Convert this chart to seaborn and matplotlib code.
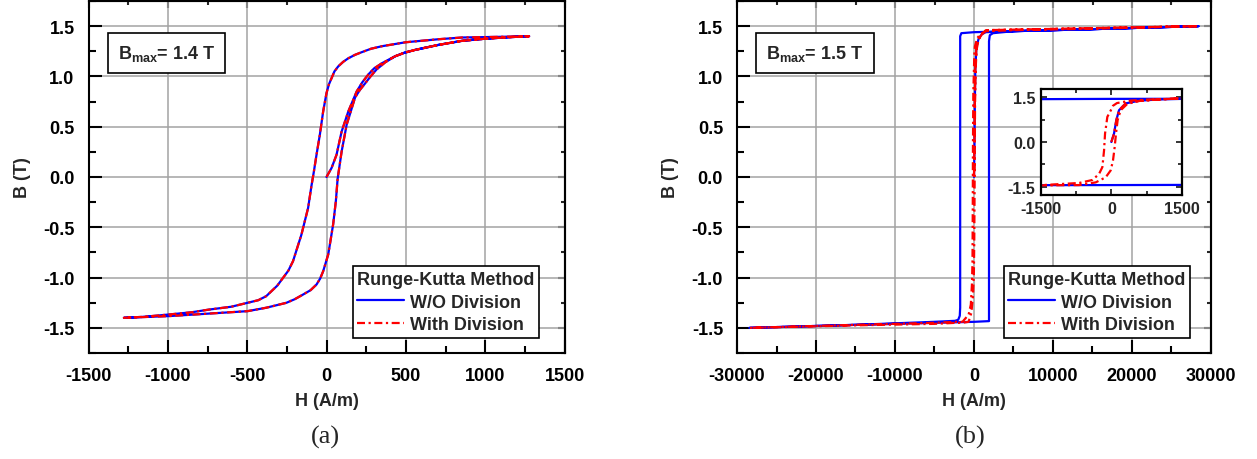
import matplotlib
matplotlib.use("Agg")
import matplotlib.pyplot as plt
import seaborn as sns
from matplotlib.ticker import MultipleLocator, FormatStrFormatter, FixedLocator

# ---------------- data ----------------
# (a) Bmax = 1.4 T : initial curve -> descending branch -> ascending branch
h_14 = [0, 32, 63, 95, 137, 190, 225, 264, 300, 348, 432, 490, 559, 707, 854, 1000, 1150, 1277,
        1100, 854, 707, 500, 348, 280, 222, 180, 137, 105, 74, 50, 32, 15, 0, -21, -42, -63, -80, -95,
        -116, -158, -211, -240, -274, -310, -380, -430, -498, -600, -739, -850, -992, -1150, -1277,
        -992, -498, -380, -253, -200, -148, -100, -63, -40, -21, 11, 42, 59, 70, 95, 127, 180, 210,
        243, 280, 316, 370, 432, 490, 559, 707, 854, 1000, 1150, 1277]
b_14 = [0.0, 0.09, 0.22, 0.45, 0.65, 0.85, 0.94, 1.02, 1.08, 1.13, 1.20, 1.235, 1.264, 1.314, 1.354, 1.375, 1.39, 1.40,
        1.394, 1.387, 1.37, 1.34, 1.30, 1.275, 1.241, 1.215, 1.18, 1.145, 1.10, 1.05, 0.983, 0.92, 0.834,
        0.652, 0.42, 0.22, 0.05, -0.09,
        -0.308, -0.573, -0.837, -0.93, -1.003, -1.08, -1.185, -1.225, -1.251, -1.29, -1.318, -1.345, -1.367, -1.39, -1.40,
        -1.383, -1.334, -1.30, -1.251, -1.215, -1.169, -1.125, -1.069, -1.01, -0.937, -0.77, -0.47, -0.24, -0.02,
        0.25, 0.52, 0.79, 0.865,
        0.93, 1.005, 1.07, 1.14, 1.20, 1.235, 1.264, 1.314, 1.354, 1.375, 1.39, 1.40]

# (b) Bmax = 1.5 T, without division (blue)
h_15_wo = [0, 57, 106, 163, 305, 600, 1000, 1500, 5000, 15000, 28400,
           15000, 5000, 0, -1600, -1750, -1750, -1800, -2000, -2400, -5000, -15000, -28400,
           -15000, -5000, 0, 1900, 1900, 2000, 2400, 5000, 15000, 28400]
b_15_wo = [0.0, 0.28, 0.73, 1.06, 1.29, 1.38, 1.42, 1.44, 1.45, 1.47, 1.50,
           1.47, 1.45, 1.44, 1.43, 1.40, -1.30, -1.38, -1.42, -1.43, -1.44, -1.47, -1.50,
           -1.47, -1.45, -1.44, -1.433, 1.35, 1.41, 1.43, 1.45, 1.47, 1.50]

# (b) Bmax = 1.5 T, with division (red)
h_15_wd = [0, 57, 106, 163, 305, 450, 587, 1011, 1500, 5000, 15000, 28400,
           15000, 5000, 1500, 800, 400, 120, 35, 0, -85, -134, -155, -191, -262, -403, -686,
           -1463, -2300, -5000, -15000, -28400,
           -15000, -5000, -2300, -1500, -686, -332, -120, -14, 35, 71, 99, 134, 198, 339,
           587, 1011, 1500, 5000, 15000, 28400]
b_15_wd = [0.0, 0.28, 0.73, 1.06, 1.29, 1.35, 1.37, 1.42, 1.46, 1.465, 1.48, 1.50,
           1.475, 1.46, 1.45, 1.42, 1.38, 1.30, 1.21, 1.09, 0.84, 0.28, -0.28, -0.84, -1.07, -1.27, -1.37,
           -1.44, -1.44, -1.45, -1.47, -1.50,
           -1.475, -1.46, -1.45, -1.45, -1.44, -1.35, -1.18, -0.95, -0.62, -0.17, 0.28, 0.73, 1.06, 1.27,
           1.37, 1.42, 1.46, 1.465, 1.48, 1.50]

panel_titles = ["(a)", "(b)"]
bmax_labels = [r"$\mathrm{B_{max}}$= 1.4 T", r"$\mathrm{B_{max}}$= 1.5 T"]
series_names = ["W/O Division", "With Division"]
legend_title = "Runge-Kutta Method"

# ---------------- style ----------------
sns.set_style("ticks")
plt.rcParams["font.family"] = ["Liberation Sans", "DejaVu Sans"]
plt.rcParams["font.weight"] = "bold"
plt.rcParams["axes.labelweight"] = "bold"
plt.rcParams["axes.unicode_minus"] = False
plt.rcParams["mathtext.fontset"] = "custom"
plt.rcParams["mathtext.rm"] = "Liberation Sans:bold"
plt.rcParams["mathtext.bf"] = "Liberation Sans:bold"
plt.rcParams["mathtext.it"] = "Liberation Sans:bold"
plt.rcParams["axes.axisbelow"] = True

BLUE = "#0000ff"
RED = "#ff0000"
DASHDOT = (0, (3.6, 1.6, 1.0, 1.6))
W, H = 1257, 460

fig = plt.figure(figsize=(W / 100, H / 100), dpi=100)
axL = fig.add_axes([88.5 / W, 1 - 354 / H, 476 / W, 352 / H])
axR = fig.add_axes([737 / W, 1 - 354 / H, 474 / W, 352 / H])


def draw(ax, hw, bw, hd, bd, lw=1.6, legend=True):
    sns.lineplot(x=hw, y=bw, sort=False, estimator=None, color=BLUE, lw=lw, ax=ax,
                 label=series_names[0] if legend else None, legend=False)
    sns.lineplot(x=hd, y=bd, sort=False, estimator=None, color=RED, lw=lw, ax=ax,
                 linestyle=DASHDOT, label=series_names[1] if legend else None, legend=False)


def style_main(ax, xmaj, xmin):
    ax.set_ylim(-1.75, 1.75)
    ax.xaxis.set_major_locator(MultipleLocator(xmaj))
    ax.xaxis.set_minor_locator(MultipleLocator(xmin))
    ax.yaxis.set_major_locator(MultipleLocator(0.5))
    ax.yaxis.set_minor_locator(MultipleLocator(0.25))
    ax.yaxis.set_major_formatter(FormatStrFormatter("%.1f"))
    ax.grid(True, which="major", color="#a3a3a3", lw=1.1)
    ax.tick_params(which="both", direction="in", labelsize=13, width=1.5, pad=10,
                   colors="black")
    ax.tick_params(which="major", length=9.5)
    ax.tick_params(which="minor", length=5)
    for s in ax.spines.values():
        s.set_visible(True)
        s.set_linewidth(1.5)
        s.set_color("black")
    # shorter ticks on top / right
    sx = ax.secondary_xaxis("top")
    sx.xaxis.set_major_locator(MultipleLocator(xmaj))
    sx.xaxis.set_minor_locator(MultipleLocator(xmin))
    sx.tick_params(which="both", direction="in", labeltop=False, width=1.5)
    sx.tick_params(which="major", length=5)
    sx.tick_params(which="minor", length=3)
    sy = ax.secondary_yaxis("right")
    sy.yaxis.set_major_locator(MultipleLocator(0.5))
    sy.yaxis.set_minor_locator(MultipleLocator(0.25))
    sy.tick_params(which="both", direction="in", labelright=False, width=1.5)
    sy.tick_params(which="major", length=5)
    sy.tick_params(which="minor", length=3)
    for s in list(sx.spines.values()) + list(sy.spines.values()):
        s.set_linewidth(1.5)
    ax.set_xlabel("H (A/m)", fontsize=13, labelpad=6)
    ax.set_ylabel("B (T)", fontsize=13, labelpad=9)


draw(axL, h_14, b_14, h_14, b_14)
axL.set_xlim(-1500, 1500)
style_main(axL, 500, 250)

draw(axR, h_15_wo, b_15_wo, h_15_wd, b_15_wd)
axR.set_xlim(-30000, 30000)
style_main(axR, 10000, 5000)

for ax, lab, rx in ((axL, bmax_labels[0], 0.9464), (axR, bmax_labels[1], 0.9557)):
    ax.text(0.062, 0.852, lab, transform=ax.transAxes, fontsize=13, ha="left", va="center",
            bbox=dict(boxstyle="square,pad=0.55", fc="white", ec="black", lw=1.2), zorder=6)
    leg = ax.legend(loc="lower right", bbox_to_anchor=(rx, 0.0427), title=legend_title,
                    prop={"weight": "bold", "size": 13},
                    title_fontproperties={"weight": "bold", "size": 13},
                    frameon=True, fancybox=False, edgecolor="black", framealpha=1,
                    borderpad=0.25, labelspacing=0.32, handlelength=2.6,
                    handletextpad=0.35, borderaxespad=0, alignment="left")
    leg.get_frame().set_linewidth(1.2)

# inset in panel (b)
ins = axR.inset_axes([0.641, 0.449, 0.2975, 0.301])
draw(ins, h_15_wo, b_15_wo, h_15_wd, b_15_wd, lw=1.6, legend=False)
ins.set_xlim(-1500, 1500)
ins.set_ylim(-1.77, 1.77)
ins.xaxis.set_major_locator(FixedLocator([-1500, 0, 1500]))
ins.xaxis.set_minor_locator(FixedLocator([-750, 750]))
ins.yaxis.set_major_locator(FixedLocator([-1.5, 0, 1.5]))
ins.yaxis.set_minor_locator(FixedLocator([-0.75, 0.75]))
ins.yaxis.set_major_formatter(FormatStrFormatter("%.1f"))
ins.tick_params(which="both", direction="in", top=True, right=True, labelsize=11.5,
                width=1.3, pad=4)
ins.tick_params(which="major", length=4)
ins.tick_params(which="minor", length=3)
ins.set_facecolor("white")
ins.grid(False)
ins.set_xlabel("")
ins.set_ylabel("")
for s in ins.spines.values():
    s.set_visible(True)
    s.set_linewidth(1.6)
    s.set_color("black")

fig.text(325 / W, 1 - 437 / H, panel_titles[0], ha="center", va="center", fontsize=19,
         family="Liberation Serif", weight="normal")
fig.text(970 / W, 1 - 437 / H, panel_titles[1], ha="center", va="center", fontsize=19,
         family="Liberation Serif", weight="normal")

fig.savefig("out.png", dpi=100)
